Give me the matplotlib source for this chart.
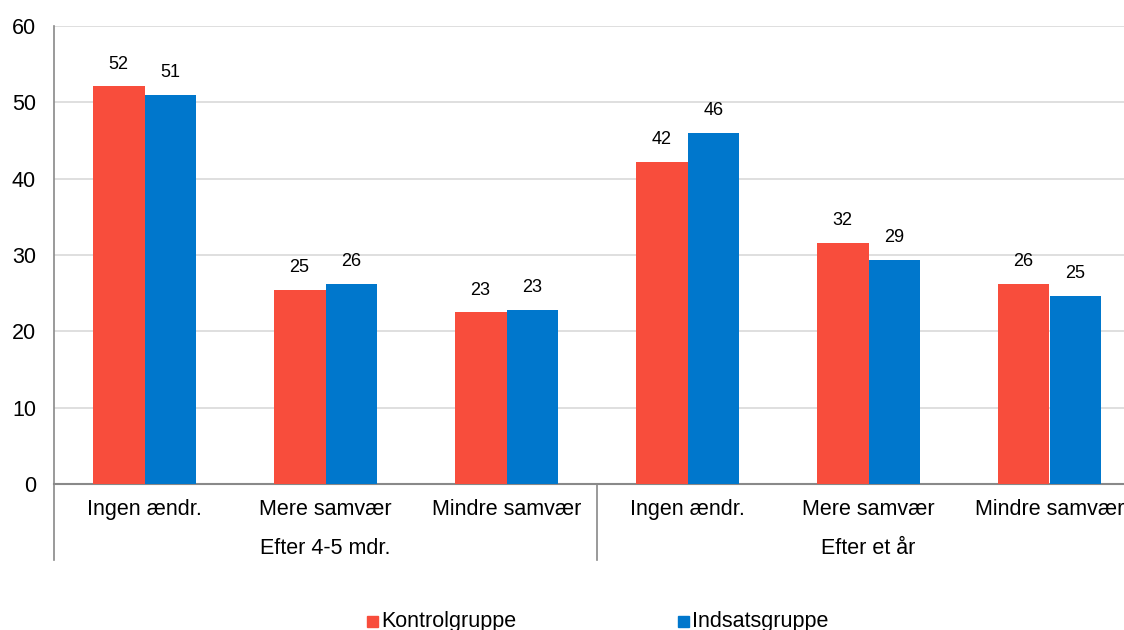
import numpy as np
import matplotlib.pyplot as plt
from matplotlib.patches import Rectangle
from matplotlib.lines import Line2D

plt.rcParams['font.family'] = ['Liberation Sans', 'DejaVu Sans']

categories = ["Ingen ændr.", "Mere samvær", "Mindre samvær",
              "Ingen ændr.", "Mere samvær", "Mindre samvær"]
groups = ["Efter 4-5 mdr.", "Efter et år"]
kontrol = [52.1, 25.4, 22.5, 42.2, 31.6, 26.2]
indsats = [51.0, 26.2, 22.8, 46.0, 29.4, 24.6]
kontrol_labels = ["52", "25", "23", "42", "32", "26"]
indsats_labels = ["51", "26", "23", "46", "29", "25"]
series_names = ["Kontrolgruppe", "Indsatsgruppe"]

red = '#F84D3C'
blue = '#0077CC'

fig = plt.figure(figsize=(11.24, 6.3), dpi=100)
ax = fig.add_axes([54/1124, 1 - 484/630, 1086/1124, 458/630])

x = np.arange(len(categories))
w = 0.287
b1 = ax.bar(x - w/2, kontrol, w, color=red, zorder=3)
b2 = ax.bar(x + w/2, indsats, w, color=blue, zorder=3)

for bars, labs in ((b1, kontrol_labels), (b2, indsats_labels)):
    for bar, lab in zip(bars, labs):
        ax.annotate(lab, (bar.get_x() + bar.get_width()/2, bar.get_height()),
                    xytext=(0, 16), textcoords='offset points',
                    ha='center', va='center', fontsize=13)

ax.set_xlim(-0.5, len(categories) - 0.5)
ax.set_ylim(0, 60)
ax.set_yticks(range(0, 61, 10))
ax.yaxis.grid(True, color='#D9D9D9', linewidth=1.2, zorder=0)
ax.set_axisbelow(True)
ax.tick_params(axis='y', length=0, pad=13, labelsize=15.5)
ax.set_xticks(x)
ax.set_xticklabels(categories, fontsize=15.5)
ax.tick_params(axis='x', length=0, pad=11)

for s in ('top', 'right'):
    ax.spines[s].set_visible(False)
ax.spines['bottom'].set_color('#898989')
ax.spines['bottom'].set_linewidth(1.5)
ax.spines['left'].set_color('#898989')
ax.spines['left'].set_linewidth(1.2)
ax.spines['left'].set_bounds(0, 60)

# group separators and labels
yb = -76/458
trans = ax.get_xaxis_transform()
for xs in (-0.5, 2.5):
    ax.add_line(Line2D([xs, xs], [0, yb], transform=trans, color='#898989',
                       linewidth=1.2, clip_on=False))
for i, g in enumerate(groups):
    ax.text(1 + 3*i, -65/458, g, transform=trans, ha='center', va='center',
            fontsize=15.5)

# legend
for px, name, col in zip((367, 678), series_names, (red, blue)):
    fig.patches.append(Rectangle((px/1124, 3/630), 11/1124, 11/630,
                                 transform=fig.transFigure, color=col))
    fig.text((px + 14)/1124, 3/630, name, ha='left', va='baseline',
             fontsize=15.5)

fig.savefig('out.png', dpi=100)
